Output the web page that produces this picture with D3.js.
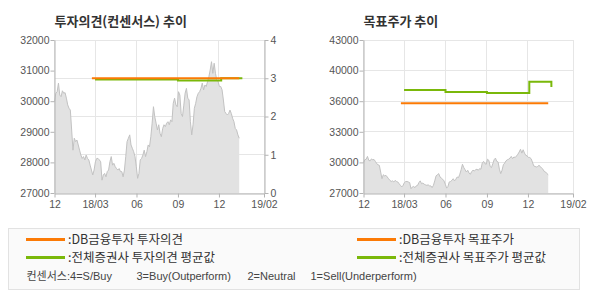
<!DOCTYPE html>
<html>
<head>
<meta charset="utf-8">
<script src="https://cdnjs.cloudflare.com/ajax/libs/d3/7.8.5/d3.min.js"></script>
<style>
body { margin: 0; background: #fff; }
svg text { font-family: "Liberation Sans", "Noto Sans CJK KR", sans-serif; }
</style>
</head>
<body>
<svg id="chart" width="590" height="300"></svg>
<script>
// x axis
var xDomain = ["2017-12-01", "2019-03-11"];
var xTickDates = ["2017-12-01", "2018-03-01", "2018-06-01", "2018-09-01", "2018-12-01", "2019-03-11"];
var xTickLabels = ["12", "18/03", "06", "09", "12", "19/02"];

// stock price, sampled evenly from priceStart to priceEnd
var priceStart = "2017-12-01";
var priceEnd = "2019-01-15";
var prices = [
	29980, 30260, 30310, 30590, 30200, 30150, 30340, 30260, 30280, 30100,
	29880, 29770, 29710, 29060, 28400, 28790, 28680, 28730, 28570, 28400,
	28240, 28130, 28190, 28080, 28240, 28130, 28080, 27910, 27750, 27590,
	27750, 28020, 28130, 28130, 28080, 28020, 27420, 27590, 27640, 27530,
	27700, 27750, 28020, 28190, 27910, 27970, 27860, 27800,
	27750, 27800, 27700, 27700, 27530, 27750, 28190, 28680, 28790, 28900,
	28570, 28460, 28350, 28190, 27860, 27480, 27640, 28080, 28130, 28240,
	28400, 28190, 28350, 28570, 28510, 28840, 29280, 29820, 29490, 29280,
	29060, 29230, 28950, 28840, 29110, 29230, 29170, 29280, 29330, 29230,
	29390, 29330, 29930, 30100, 29880, 29820, 30310,
	30200, 29600, 29500, 29870, 30260, 30420, 30100, 30040, 29330, 28900,
	29230, 29770, 29930, 30150, 30260, 30310, 30420, 30590, 30370, 30530,
	30480, 30640, 30800, 31020, 31290, 30910, 31240, 30910, 30690, 30640,
	30480, 30480, 30370, 30040, 29660, 29600, 29550, 29600, 29710, 29600,
	29440, 29330, 29110, 29060, 28900, 28790
];

// investment opinion (left chart, right axis)
var opinionDates = ["2018-02-22", "2019-01-15"];
var opinionValues = [3, 3];
var opinionAvgDates = ["2018-03-01", "2018-09-01", "2018-12-06", "2019-01-22"];
var opinionAvgValues = [2.97, 2.94, 3, 3];

// target price (right chart)
var targetDates = ["2018-02-22", "2019-01-15"];
var targetValues = [35800, 35800];
var targetAvgDates = ["2018-03-01", "2018-06-01", "2018-09-01", "2018-12-04", "2019-01-22"];
var targetAvgValues = [37100, 36900, 36800, 37900, 37400];

// y ticks
var priceTicks = [27000, 28000, 29000, 30000, 31000, 32000];
var opinionTicks = [0, 1, 2, 3, 4];
var targetTickValues = [27000, 30000, 33000, 36000, 39000, 42000];
var targetTickLabels = ["27000", "30000", "33000", "36000", "40000", "43000"];

var ORANGE = "#fb7a05";
var GREEN = "#7ab80a";
var GRID = "#e6e6e6";
var AXIS = "#b4b4b4";
var LABEL = "#555";

var parse = d3.timeParse("%Y-%m-%d");
var svg = d3.select("#chart");

var t0 = parse(priceStart).getTime(), t1 = parse(priceEnd).getTime();
var priceData = prices.map(function(v, i) {
	return { date: new Date(t0 + (t1 - t0) * i / (prices.length - 1)), value: v };
});

function zip(dates, values) {
	return dates.map(function(d, i) { return { date: parse(d), value: values[i] }; });
}

function crisp(v) { return Math.floor(v) + 0.5; }

function styleAxis(g) {
	g.select(".domain").attr("stroke", AXIS);
	g.selectAll(".tick line").attr("stroke", AXIS);
	g.selectAll(".tick text").attr("fill", LABEL).style("font-size", "10.5px");
}

function drawPanel(opt) {
	var g = svg.append("g");
	var x = d3.scaleTime().domain(xDomain.map(parse)).range([opt.left, opt.right]);
	var top = 40, bottom = 193;

	// horizontal gridlines
	g.selectAll(".hgrid").data(opt.gridValues).join("line")
		.attr("x1", opt.left).attr("x2", opt.right)
		.attr("y1", function(d) { return crisp(opt.gridScale(d)); })
		.attr("y2", function(d) { return crisp(opt.gridScale(d)); })
		.attr("stroke", GRID);

	// vertical gridlines
	g.selectAll(".vgrid").data(xTickDates.map(parse)).join("line")
		.attr("x1", function(d) { return crisp(x(d)); })
		.attr("x2", function(d) { return crisp(x(d)); })
		.attr("y1", top).attr("y2", bottom)
		.attr("stroke", GRID);

	// price area
	var area = d3.area()
		.x(function(d) { return x(d.date); })
		.y0(opt.priceScale.range()[0])
		.y1(function(d) { return opt.priceScale(d.value); });
	g.append("path").datum(priceData).attr("d", area).attr("fill", "#e2e2e2");

	var line = d3.line()
		.x(function(d) { return x(d.date); })
		.y(function(d) { return opt.priceScale(d.value); });
	g.append("path").datum(priceData).attr("d", line)
		.attr("fill", "none").attr("stroke", "#c2c2c2").attr("stroke-width", 1);

	// axes
	var xAxis = d3.axisBottom(x).tickValues(xTickDates.map(parse))
		.tickFormat(function(d, i) { return xTickLabels[i]; })
		.tickSize(4).tickSizeOuter(0).tickPadding(3);
	g.append("g").attr("transform", "translate(0," + crisp(bottom) + ")").call(xAxis).call(styleAxis);

	g.append("g").attr("transform", "translate(" + crisp(opt.left) + ",0)").call(opt.leftAxis).call(styleAxis);
	if (opt.rightAxis) {
		g.append("g").attr("transform", "translate(" + crisp(opt.right) + ",0)").call(opt.rightAxis).call(styleAxis);
	}

	// series lines
	var step = d3.line()
		.x(function(d) { return x(d.date); })
		.y(function(d) { return opt.seriesScale(d.value); })
		.curve(d3.curveStepAfter);
	g.append("path").datum(opt.avg).attr("d", step)
		.attr("fill", "none").attr("stroke", GREEN).attr("stroke-width", 2);
	g.append("path").datum(opt.own).attr("d", step)
		.attr("fill", "none").attr("stroke", ORANGE).attr("stroke-width", 2);

	// title
	g.append("text").attr("x", opt.left).attr("y", 26)
		.attr("fill", "#333").style("font-size", "13px").style("font-weight", "bold")
		.style("font-family", "'Noto Sans CJK KR', sans-serif")
		.text(opt.title);
}

// left chart: investment opinion
var yPriceL = d3.scaleLinear().domain([27000, 32000]).range([193, 40]);
var yOpinion = d3.scaleLinear().domain([0, 4]).range([193, 40]);
drawPanel({
	left: 54.5, right: 264,
	title: "투자의견(컨센서스) 추이",
	priceScale: yPriceL,
	gridScale: yOpinion, gridValues: opinionTicks,
	seriesScale: yOpinion,
	leftAxis: d3.axisLeft(yPriceL).tickValues(priceTicks).tickFormat(d3.format("d")).tickSize(4).tickSizeOuter(0).tickPadding(1),
	rightAxis: d3.axisRight(yOpinion).tickValues(opinionTicks).tickFormat(d3.format("d")).tickSize(4).tickSizeOuter(0).tickPadding(2),
	own: zip(opinionDates, opinionValues),
	avg: zip(opinionAvgDates, opinionAvgValues)
});

// right chart: target price
var yPriceR = d3.scaleLinear().domain([27000, 42000]).range([193, 40]);
drawPanel({
	left: 363.5, right: 573,
	title: "목표주가 추이",
	priceScale: yPriceR,
	gridScale: yPriceR, gridValues: targetTickValues,
	seriesScale: yPriceR,
	leftAxis: d3.axisLeft(yPriceR).tickValues(targetTickValues)
		.tickFormat(function(d, i) { return targetTickLabels[i]; })
		.tickSize(4).tickSizeOuter(0).tickPadding(1),
	rightAxis: null,
	own: zip(targetDates, targetValues),
	avg: zip(targetAvgDates, targetAvgValues)
});

// legend
var legend = svg.append("g");
legend.append("rect").attr("x", 8.5).attr("y", 228.5).attr("width", 571).attr("height", 61)
	.attr("fill", "#fafafa").attr("stroke", "#e2e2e2");

var legendItems = [
	{ x: 26, y: 239.5, color: ORANGE, text: ":DB금융투자 투자의견" },
	{ x: 26, y: 257.5, color: GREEN, text: ":전체증권사 투자의견 평균값" },
	{ x: 357, y: 239.5, color: ORANGE, text: ":DB금융투자 목표주가" },
	{ x: 357, y: 257.5, color: GREEN, text: ":전체증권사 목표주가 평균값" }
];
legendItems.forEach(function(item) {
	legend.append("line").attr("x1", item.x).attr("x2", item.x + 39)
		.attr("y1", item.y).attr("y2", item.y)
		.attr("stroke", item.color).attr("stroke-width", 3);
	legend.append("text").attr("x", item.x + 42).attr("y", item.y + 4.5)
		.attr("fill", "#333").style("font-size", "12.5px")
		.style("font-family", "'Noto Sans CJK KR', sans-serif")
		.text(item.text);
});

var consensusNotes = [
	{ x: 26.5, text: "컨센서스:4=S/Buy" },
	{ x: 136.5, text: "3=Buy(Outperform)" },
	{ x: 247.5, text: "2=Neutral" },
	{ x: 310.5, text: "1=Sell(Underperform)" }
];
consensusNotes.forEach(function(n) {
	legend.append("text").attr("x", n.x).attr("y", 279.5)
		.attr("fill", "#444").style("font-size", "11px")
		.text(n.text);
});
</script>
</body>
</html>
